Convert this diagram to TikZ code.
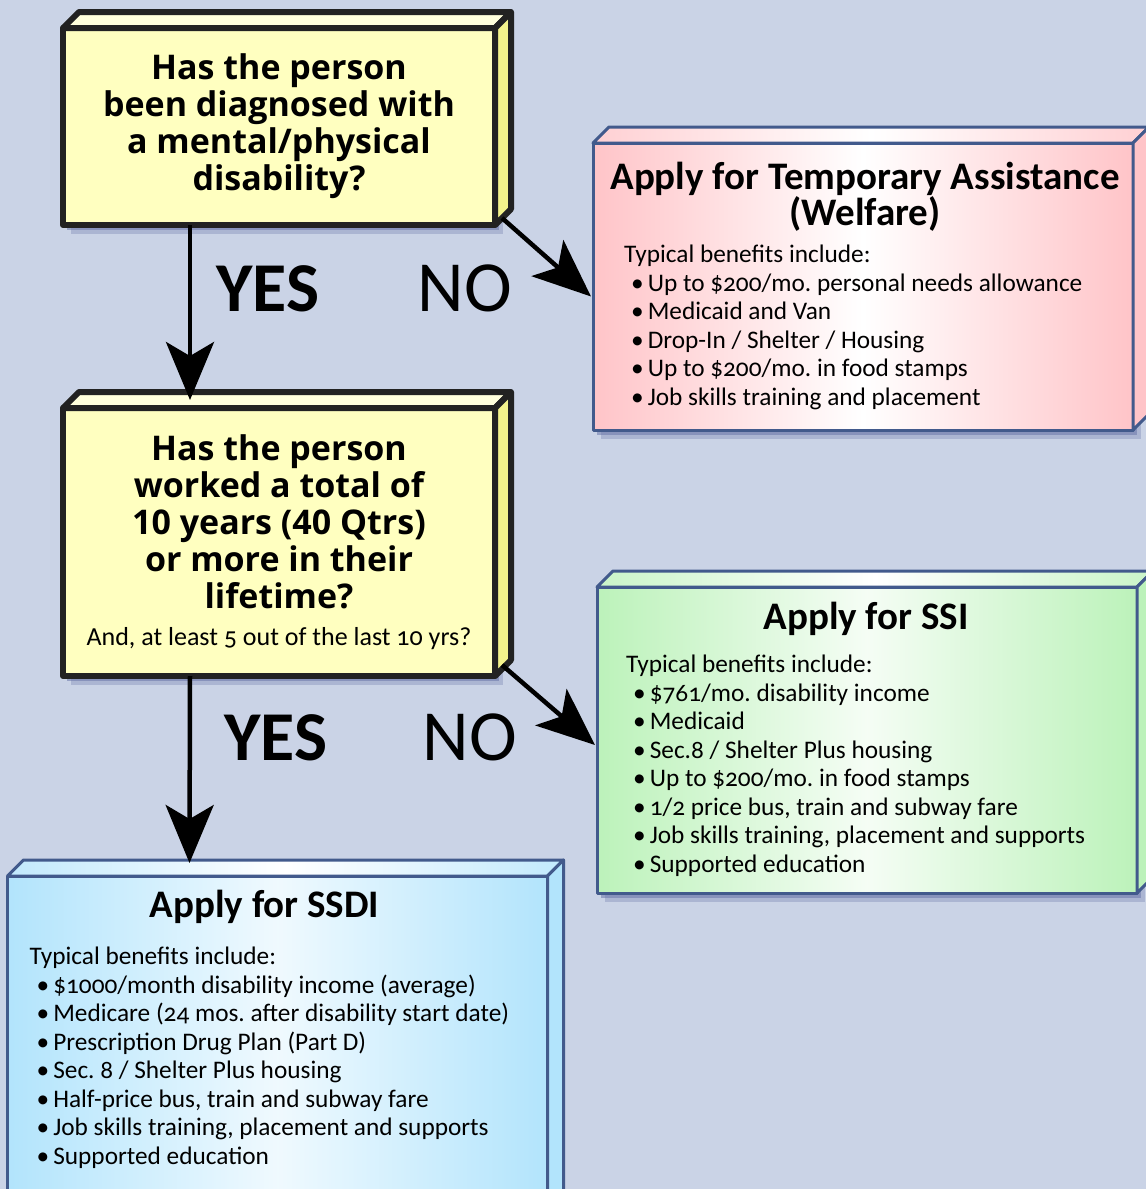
\documentclass[tikz,border=0pt]{standalone}
\usepackage{fontspec}
\setmainfont{Carlito}[Numbers=OldStyle]
\newfontfamily\qfont{Open Sans}
\newfontfamily\ansfont{Carlito}
\usetikzlibrary{arrows.meta,calc,shadows}
\frenchspacing

\definecolor{bgblue}{RGB}{202,211,230}
\definecolor{qblack}{RGB}{34,34,34}
\definecolor{qyellow}{RGB}{255,255,192}
\definecolor{qtop}{RGB}{255,255,220}
\definecolor{qside}{RGB}{243,243,140}
\definecolor{edgeblue}{RGB}{66,90,140}
\definecolor{welfpink}{RGB}{255,196,200}
\definecolor{ssigreen}{RGB}{188,242,186}
\definecolor{ssdiblue}{RGB}{178,228,252}
\definecolor{shadowblue}{RGB}{100,112,165}

% top and right faces of a box node
\newcommand\boxfaces[4]{%
  \path[#4,#2] (#1.north west) -- ++(16,-16) -- ($(#1.north east)+(16,-16)$) -- (#1.north east) -- cycle;
  \path[#4,#3] (#1.north east) -- ++(16,-16) -- ($(#1.south east)+(16,-16)$) -- (#1.south east) -- cycle;}
\newcommand\bul{\hspace*{7pt}\textbullet\hspace{4pt}}

\begin{document}
\begin{tikzpicture}[x=1pt, y=-1pt,
    boxshadow/.style={drop shadow={shadow xshift=8pt, shadow yshift=-9pt, fill=shadowblue, opacity=.3},
      drop shadow={shadow xshift=4pt, shadow yshift=-5pt, fill=shadowblue, opacity=.5}},
    question/.style={draw=qblack, line width=6pt, line join=round, fill=qyellow, boxshadow,
      minimum width=432pt, inner sep=0pt, outer sep=0pt, align=center,
      font=\qfont\bfseries\fontsize{34}{37}\selectfont},
    qedge/.style={draw=qblack, line width=6pt, line join=round},
    benefit/.style={draw=edgeblue, line width=3pt, line join=round, boxshadow,
      minimum width=540pt, inner sep=0pt, outer sep=0pt},
    bedge/.style={draw=edgeblue, line width=3pt, line join=round},
    boxtitle/.style={font=\bfseries\fontsize{39}{35}\selectfont, align=center, inner sep=0pt},
    boxlist/.style={font=\fontsize{25.3}{28.5}\selectfont, align=left, anchor=north west, inner sep=0pt},
    yesanswer/.style={font=\ansfont\bfseries\fontsize{70}{70}\selectfont, anchor=base},
    noanswer/.style={font=\ansfont\fontsize{72}{72}\selectfont, anchor=base},
    flow/.style={line width=4.5pt, -{Stealth[length=58pt, width=48pt, inset=14pt]}}
  ]
    \useasboundingbox (0,0) rectangle (1146,1189);
    \fill[bgblue] (0,0) rectangle (1146,1189);

    % questions
    \node[question, minimum height=197pt] (q1) at (279,126.5)
      {Has the person\\been diagnosed with\\a mental/physical\\disability?};
    \boxfaces{q1}{fill=qtop}{fill=qside}{qedge}

    \node[question, minimum height=268pt] (q2) at (279,542)
      {Has the person\\worked a total of\\10 years (40 Qtrs)\\or more in their\\lifetime?\\
       {\normalfont\fontsize{26}{33}\selectfont And, at least 5 out of the last 10 yrs?}};
    \boxfaces{q2}{fill=qtop}{fill=qside}{qedge}

    % outcomes
    \node[benefit, minimum height=287pt, left color=welfpink, right color=welfpink, middle color=white] (tanf) at (863,286.5) {};
    \boxfaces{tanf}{left color=welfpink!80, right color=welfpink!80, middle color=white}{fill=welfpink}{bedge}
    \node[boxtitle, anchor=north] (tanftitle) at ($(tanf.north)+(2,19)$) {Apply for Temporary Assistance\\(Welfare)};
    \node[boxlist] (tanflist) at ($(tanf.north west)+(31,102)$)
      {Typical benefits include:\\
       \bul Up to \$200/mo. personal needs allowance\\
       \bul Medicaid and Van\\
       \bul Drop-In / Shelter / Housing\\
       \bul Up to \$200/mo. in food stamps\\
       \bul Job skills training and placement};

    \node[benefit, minimum height=306pt, left color=ssigreen, right color=ssigreen, middle color=white!85!ssigreen] (ssi) at (867,740) {};
    \boxfaces{ssi}{left color=ssigreen!80, right color=ssigreen!80, middle color=white}{fill=ssigreen}{bedge}
    \node[boxtitle, anchor=base] (ssititle) at ($(ssi.north west)+(269,42)$) {Apply for SSI};
    \node[boxlist] (ssilist) at ($(ssi.north west)+(29,68)$)
      {Typical benefits include:\\
       \bul \$761/mo. disability income\\
       \bul Medicaid\\
       \bul Sec.8 / Shelter Plus housing\\
       \bul Up to \$200/mo. in food stamps\\
       \bul 1/2 price bus, train and subway fare\\
       \bul Job skills training, placement and supports\\
       \bul Supported education};

    \node[benefit, minimum height=330pt, left color=ssdiblue, right color=ssdiblue, middle color=white!80!ssdiblue] (ssdi) at (277.5,1041) {};
    \boxfaces{ssdi}{left color=ssdiblue!80, right color=ssdiblue!80, middle color=white}{fill=ssdiblue}{bedge}
    \node[boxtitle, anchor=base] (ssdititle) at ($(ssdi.north west)+(257,41)$) {Apply for SSDI};
    \node[boxlist] (ssdilist) at ($(ssdi.north west)+(22,71)$)
      {Typical benefits include:\\
       \bul \$1000/month disability income (average)\\
       \bul Medicare (24 mos. after disability start date)\\
       \bul Prescription Drug Plan (Part D)\\
       \bul Sec. 8 / Shelter Plus housing\\
       \bul Half-price bus, train and subway fare\\
       \bul Job skills training, placement and supports\\
       \bul Supported education};

    % connectors
    \draw[flow] ($(q1.south west)+(127,0)$) -- ($(q2.north west)+(127,-8)$);
    \draw[flow] ($(q1.south east)+(7,-7)$) -- ($(tanf.west)+(-2,10)$);
    \draw[flow] ($(q2.south west)+(127,0)$) -- ($(ssdi.north west)+(182,-13)$);
    \draw[flow] ($(q2.south east)+(7,-11)$) -- ($(ssi.west)+(-2,5)$);

    \node[yesanswer] (yes1) at (268,311) {YES};
    \node[noanswer] (no1) at (465,311) {NO};
    \node[yesanswer] (yes2) at (276,760) {YES};
    \node[noanswer] (no2) at (470,760) {NO};
\end{tikzpicture}
\end{document}
